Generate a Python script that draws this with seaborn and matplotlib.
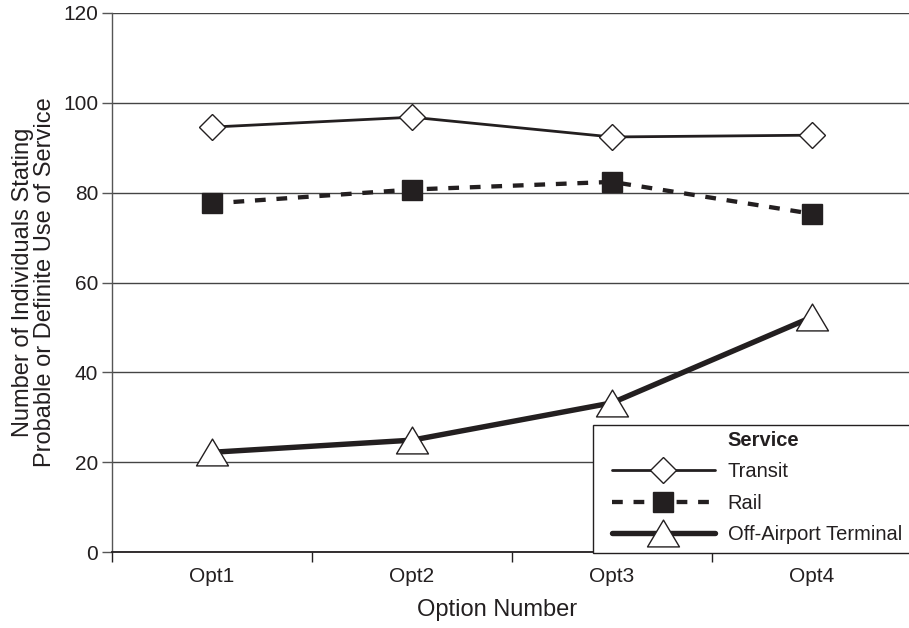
import numpy as np
import pandas as pd
import matplotlib
matplotlib.use("Agg")
import matplotlib.pyplot as plt
from matplotlib.lines import Line2D
from matplotlib.patches import Rectangle
from matplotlib.path import Path
import seaborn as sns

# Survey responses by option
categories = ["Opt1", "Opt2", "Opt3", "Opt4"]
transit = [94.6, 96.8, 92.4, 92.8]
rail = [77.6, 80.7, 82.4, 75.3]
off_airport = [22.2, 24.9, 33.2, 52.3]
series_names = ["Transit", "Rail", "Off-Airport Terminal"]
y_ticks = [0, 20, 40, 60, 80, 100, 120]

sns.set_style("white")
plt.rcParams["font.family"] = ["Liberation Sans", "DejaVu Sans"]
ink = "#231f20"
plt.rcParams["text.color"] = ink

df = pd.DataFrame({
    "pos": np.tile(np.arange(len(categories)), 3),
    "value": transit + rail + off_airport,
    "service": np.repeat(series_names, len(categories)),
})

W, H = 909, 628
fig = plt.figure(figsize=(W / 100, H / 100), dpi=100)
ax = fig.add_axes([112 / W, 1 - 552 / H, 800 / W, 539 / H])

# wide, slightly flattened triangle marker
tri = Path([(-1, -0.84), (1, -0.84), (0, 0.84), (-1, -0.84)],
           [Path.MOVETO, Path.LINETO, Path.LINETO, Path.CLOSEPOLY])

styles = {
    "Transit": dict(lw=2.0, ls="-", marker="D", ms=13.7, mfc="white", mec=ink, mew=1.0),
    "Rail": dict(lw=3.1, ls=(0, (2.5, 2.5)), marker="s", ms=13.9, mfc=ink, mec=ink, mew=1.0),
    "Off-Airport Terminal": dict(lw=3.9, ls="-", marker=tri, ms=23, mfc="white", mec=ink, mew=1.0),
}

for name in series_names:
    st = styles[name]
    sub = df[df["service"] == name]
    sns.lineplot(data=sub, x="pos", y="value", ax=ax, color=ink,
                 linewidth=st["lw"], linestyle=st["ls"], marker=st["marker"],
                 markersize=st["ms"], markerfacecolor=st["mfc"],
                 markeredgecolor=st["mec"], markeredgewidth=st["mew"],
                 label=name, legend=False, zorder=3)

ax.set_xlim(-0.5, len(categories) - 0.5)
ax.set_ylim(0, 120)
ax.set_yticks(y_ticks)
ax.yaxis.grid(True, color="#444444", linewidth=1.0)
ax.xaxis.grid(False)
ax.set_axisbelow(True)

# category boundaries as ticks, names centred between them
ax.set_xticks(np.arange(-0.5, len(categories)), labels=[])
ax.set_xticks(np.arange(len(categories)), labels=categories, minor=True)
ax.tick_params(axis="x", which="major", direction="out", length=7, width=1, color=ink, bottom=True)
ax.tick_params(axis="x", which="minor", length=0, pad=11, labelsize=15, labelcolor=ink)
ax.tick_params(axis="y", direction="out", length=7, width=1, color="#555555",
               pad=3, labelsize=15, labelcolor=ink, left=True)

for side in ["top", "right"]:
    ax.spines[side].set_visible(False)
ax.spines["left"].set_color("#555555")
ax.spines["left"].set_linewidth(1.0)
ax.spines["bottom"].set_color(ink)
ax.spines["bottom"].set_linewidth(1.3)

ax.set_xlabel("Option Number", fontsize=17, color=ink)
ax.xaxis.set_label_coords(0.481, -0.088)
ax.set_ylabel("Number of Individuals Stating\nProbable or Definite Use of Service",
              fontsize=17, color=ink, linespacing=1.0)
ax.yaxis.set_label_coords(-0.07, 0.5)

# legend box
fig.patches.append(Rectangle((593 / W, 1 - 553 / H), 330 / W, 128 / H,
                             transform=fig.transFigure, facecolor="white",
                             edgecolor=ink, linewidth=1.0, zorder=5))

handles, labels = ax.get_legend_handles_labels()
blank = Line2D([], [], linestyle="none", marker="none")
leg = fig.legend([blank] + handles, ["Service"] + labels,
                 loc="upper left", bbox_to_anchor=(612 / W, 1 - 431 / H),
                 bbox_transform=fig.transFigure, frameon=False,
                 borderpad=0, borderaxespad=0, handlelength=5.1, handletextpad=0.65,
                 labelspacing=0.62, fontsize=14.5, numpoints=1)
leg.set_zorder(6)
leg.get_texts()[0].set_fontweight("bold")

fig.savefig("out.png", dpi=100)
